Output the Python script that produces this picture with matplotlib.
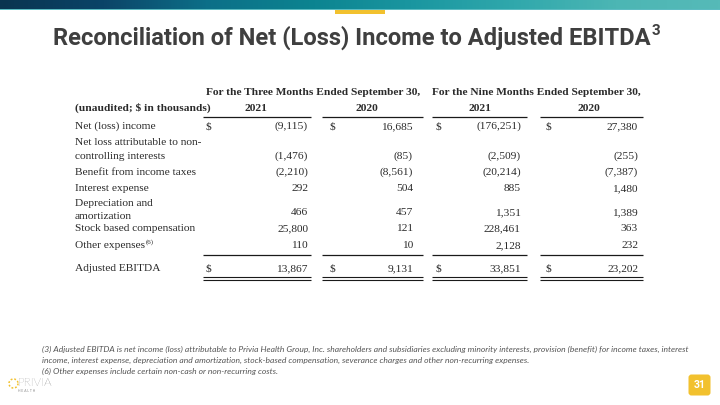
import numpy as np
import matplotlib
matplotlib.use("Agg")
import matplotlib.pyplot as plt
from matplotlib.patches import Rectangle, FancyBboxPatch, Arc
from matplotlib.colors import LinearSegmentedColormap

# ---------------- data ----------------
title = "Reconciliation of Net (Loss) Income to Adjusted EBITDA"
title_sup = "3"
period_headers = ["For the Three Months Ended September 30,", "For the Nine Months Ended September 30,"]
year_headers = ["2021", "2020", "2021", "2020"]
unit_label = "(unaudited; $ in thousands)"
row_labels = ["Net (loss) income",
              "Net loss attributable to non-\ncontrolling interests",
              "Benefit from income taxes",
              "Interest expense",
              "Depreciation and\namortization",
              "Stock based compensation",
              "Other expenses",
              "Adjusted EBITDA"]
row_label_sup = ["", "", "", "", "", "", "(6)", ""]
three_2021 = ["(9,115)", "(1,476)", "(2,210)", "292", "466", "25,800", "110", "13,867"]
three_2020 = ["16,685", "(85)", "(8,561)", "504", "457", "121", "10", "9,131"]
nine_2021 = ["(176,251)", "(2,509)", "(20,214)", "885", "1,351", "228,461", "2,128", "33,851"]
nine_2020 = ["27,380", "(255)", "(7,387)", "1,480", "1,389", "363", "232", "23,202"]
dollar_rows = [0, 7]
footnotes = ["(3) Adjusted EBITDA is net income (loss) attributable to Privia Health Group, Inc. shareholders and subsidiaries excluding minority interests, provision (benefit) for income taxes, interest",
             "income, interest expense, depreciation and amortization, stock-based compensation, severance charges and other non-recurring expenses.",
             "(6) Other expenses include certain non-cash or non-recurring costs."]
page_number = "31"

# ---------------- layout ----------------
W, H = 720, 405
fig = plt.figure(figsize=(7.2, 4.05), dpi=100)
ax = fig.add_axes([0, 0, 1, 1])
ax.set_xlim(0, W)
ax.set_ylim(H, 0)
ax.axis("off")

# top gradient bar
stops = ["#0a3450", "#0b4468", "#0c6f88", "#0b8390", "#1a96a0", "#30a8ac", "#4cb6b4", "#56bab8"]
cmap = LinearSegmentedColormap.from_list("bar", stops)
grad = np.linspace(0, 1, 512)[None, :]
ax.imshow(grad, cmap=cmap, extent=[0, W, 9, 0], aspect="auto", zorder=1)
ax.add_patch(Rectangle((0, 9), W, 1.2, color="#5cbcc2", lw=0, zorder=2))
ax.add_patch(Rectangle((335, 10.2), 50, 4, color="#f2c12e", lw=0, zorder=2))
ax.set_xlim(0, W)
ax.set_ylim(H, 0)

fig.canvas.draw()
renderer = fig.canvas.get_renderer()

def extent(t):
    return t.get_window_extent(renderer)

# title (fit to reference width)
tcol = "#3f3f3f"
t = ax.text(53, 38, title, ha="left", va="center", fontsize=16,
            fontfamily="Roboto", fontweight="bold", color=tcol)
w = extent(t).width
t.set_fontsize(16 * 600.0 / w)
xr = extent(t).x1
ax.text(xr + 0.5, 31, title_sup, ha="left", va="center", fontsize=11,
        fontfamily="Roboto", fontweight="bold", color=tcol)

# table
serif = "Liberation Serif"
fs = 8.2
tc = "#2a2a2a"
lab_x = 75
dollar_x = [205, 329, 436, 545]
val_right = [308, 413, 521, 638]
seg = [(203, 311), (322, 423), (432, 527), (540, 643)]
year_cx = [256, 367, 480, 589]
bl = 3.0  # baseline offset from visual centre

def txt(x, y, s, ha="left", bold=False, size=fs):
    return ax.text(x, y + bl, s, ha=ha, va="baseline", fontsize=size,
                   fontfamily=serif, fontweight="bold" if bold else "normal", color=tc)

txt(313, 92, period_headers[0], ha="center", bold=True)
txt(536, 92, period_headers[1], ha="center", bold=True)
txt(lab_x, 108, unit_label, bold=True)
for cx, yh in zip(year_cx, year_headers):
    txt(cx, 108, yh, ha="center", bold=True)

def hline(y, lw=0.9):
    for a, b in seg:
        ax.plot([a, b], [y, y], color="#1a1a1a", lw=lw, solid_capstyle="butt")

hline(116.5)

row_y = [126, 156, 172, 188, 212, 228, 245, 268]
label_line_y = [[126], [142, 156], [172], [188], [203, 216], [228], [245], [268]]
cols = [three_2021, three_2020, nine_2021, nine_2020]

for i, lab in enumerate(row_labels):
    lines = lab.split("\n")
    for ln, ly in zip(lines, label_line_y[i]):
        tt = txt(lab_x, ly, ln)
    if row_label_sup[i]:
        xr = extent(tt).x1
        ax.text(xr + 0.5, label_line_y[i][-1] - 2.5, row_label_sup[i], ha="left",
                va="center", fontsize=5, fontfamily=serif, color=tc)
    for c in range(4):
        txt(val_right[c], row_y[i], cols[c][i], ha="right")
        if i in dollar_rows:
            txt(dollar_x[c], row_y[i], "$")

hline(254.5)
hline(277, lw=0.8)
hline(280, lw=0.8)

# footnotes
fn_y = [349, 360, 371]
for s, y in zip(footnotes, fn_y):
    ax.text(42, y, s, ha="left", va="center", fontsize=6.1, fontfamily="Lato",
            style="italic", color="#555555")

# logo
ax.add_patch(Arc((13.5, 383.5), 9, 9, theta1=0, theta2=360, color="#f2c12e",
                 lw=1.1, ls=(0, (1.2, 1.2))))
ax.text(17.5, 383, "PRIVIA", ha="left", va="center", fontsize=8.6,
        fontfamily="Lato", fontweight="light", color="#555555")
ax.text(18, 391, "H E A L T H", ha="left", va="center", fontsize=2.4,
        fontfamily="Lato", color="#8a8a8a")

# page number
ax.add_patch(FancyBboxPatch((688.5, 374.5), 22, 21, boxstyle="round,pad=0,rounding_size=3",
                            color="#f2c12e", lw=0))
ax.text(699.5, 385.5, page_number, ha="center", va="center", fontsize=7.5,
        fontfamily="Roboto", fontweight="bold", color="white")

fig.savefig("out.png", dpi=100)
